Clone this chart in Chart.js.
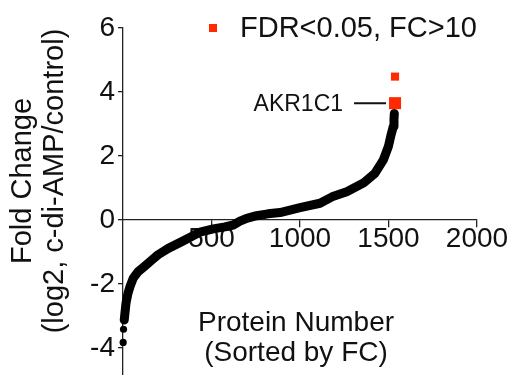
<!DOCTYPE html>
<html>
<head>
<meta charset="utf-8">
<script src="https://cdn.jsdelivr.net/npm/chart.js@4.4.0/dist/chart.umd.min.js"></script>
<style>
  html, body { margin: 0; padding: 0; background: #fff; }
</style>
</head>
<body>
<canvas id="fcChart" width="512" height="375"></canvas>
<script>
// protein rank (sorted by FC) and log2 fold change
const rankBand = [7, 17, 28, 40, 58, 85, 124, 164, 198, 256, 332, 388, 435, 510, 576, 623, 661, 699, 755, 819, 887,
                  1000, 1113, 1181, 1264, 1358, 1424, 1471, 1499, 1512, 1527, 1531, 1533];
const fcBand = [-3.13, -2.6, -2.3, -2.08, -1.82, -1.62, -1.44, -1.25, -1.09, -0.89, -0.68, -0.52, -0.38, -0.28, -0.22,
                -0.16, -0.04, 0.05, 0.13, 0.19, 0.23, 0.38, 0.52, 0.72, 0.88, 1.15, 1.46, 1.875, 2.29, 2.6, 2.92, 3.15, 3.33];

// the two lowest proteins sit apart from the curve
const rankLowTail = [1, 3];
const fcLowTail = [-3.83, -3.42];

// FDR<0.05, FC>10 hits
const rankHits = [1537, 1537];
const fcHits = [4.48, 3.65];
const hitSizes = [5.7, 8.5];
const hitLabel = 'AKR1C1';

const xTicks = [500, 1000, 1500, 2000];
const yTicks = [-4, -2, 0, 2, 4, 6];

const xTitle = ['Protein Number', '(Sorted by FC)'];
const yTitle = ['Fold Change', '(log2, c-di-AMP/control)'];
const legendText = 'FDR<0.05, FC>10';

const RED = '#ff2a00';
const FONT = '"Liberation Sans", Arial, Helvetica, sans-serif';

function toPoints(xs, ys) {
    return xs.map((v, i) => ({ x: v, y: ys[i] }));
}

function semPadding(s) {
    s.paddingLeft = 0;
    s.paddingRight = 0;
    s.paddingTop = 0;
    s.paddingBottom = 0;
}

// the y axis runs down to the bottom edge of the picture
const eixoAteBorda = {
    id: 'eixoAteBorda',
    afterLayout(chart) {
        const sy = chart.scales.y;
        sy.bottom = chart.height;
        sy.height = sy.bottom - sy.top;
        sy.configure();
        chart.chartArea.bottom = chart.height;
        chart.chartArea.height = chart.chartArea.bottom - chart.chartArea.top;
    }
};

// titles, legend and the AKR1C1 call-out
const textoExtra = {
    id: 'textoExtra',
    afterDraw(chart) {
        const ctx = chart.ctx;
        const sx = chart.scales.x;
        const sy = chart.scales.y;
        ctx.save();
        ctx.fillStyle = '#111';
        ctx.textBaseline = 'middle';
        ctx.textAlign = 'center';

        ctx.font = '28px ' + FONT;
        ctx.fillText(xTitle[0], 296, 323);
        ctx.fillText(xTitle[1], 296, 353);

        ctx.font = '29px ' + FONT;
        [23, 55].forEach((px, i) => {
            ctx.save();
            ctx.translate(px, 181);
            ctx.rotate(-Math.PI / 2);
            ctx.fillText(yTitle[i], 0, 0);
            ctx.restore();
        });

        // legend
        ctx.fillStyle = RED;
        ctx.fillRect(209, 24, 8, 8);
        ctx.fillStyle = '#111';
        ctx.textAlign = 'left';
        ctx.fillText(legendText, 240, 29);

        // AKR1C1 label + leader line
        const px = sx.getPixelForValue(rankHits[1]);
        const py = sy.getPixelForValue(fcHits[1]);
        ctx.strokeStyle = '#111';
        ctx.lineWidth = 2;
        ctx.beginPath();
        ctx.moveTo(px - 41, py);
        ctx.lineTo(px - 9, py);
        ctx.stroke();
        ctx.font = '23px ' + FONT;
        ctx.textAlign = 'right';
        ctx.fillText(hitLabel, px - 52, py + 1);
        ctx.restore();
    }
};

const ctx = document.getElementById('fcChart').getContext('2d');
const fcChart = new Chart(ctx, {
    type: 'scatter',
    data: {
        datasets: [
            {
                label: 'hits',
                data: toPoints(rankHits, fcHits),
                pointStyle: 'rect',
                pointRadius: hitSizes,
                backgroundColor: RED,
                borderWidth: 0,
                clip: false
            },
            {
                label: 'low tail',
                data: toPoints(rankLowTail, fcLowTail),
                pointRadius: 3.6,
                backgroundColor: '#000',
                borderWidth: 0,
                clip: false
            },
            {
                label: 'proteins',
                data: toPoints(rankBand, fcBand),
                showLine: true,
                borderColor: '#000',
                borderWidth: 9,
                borderJoinStyle: 'round',
                borderCapStyle: 'round',
                pointRadius: 0,
                tension: 0,
                clip: false
            }
        ]
    },
    options: {
        responsive: false,
        animation: false,
        layout: { padding: { top: 28, right: 35, bottom: 0, left: 0 } },
        plugins: {
            legend: { display: false },
            tooltip: { enabled: false }
        },
        scales: {
            x: {
                type: 'linear',
                min: 0,
                max: 2000,
                position: { y: 0 },
                afterBuildTicks: s => { s.ticks = xTicks.map(v => ({ value: v })); },
                afterFit: semPadding,
                grid: { drawOnChartArea: false, drawTicks: true, tickLength: 7, color: '#222', lineWidth: 1.3 },
                border: { display: true, color: '#222', width: 1.3 },
                ticks: {
                    color: '#111',
                    padding: -4,
                    font: { size: 28, family: FONT },
                    callback: v => String(v)
                }
            },
            y: {
                min: -4.85,
                max: 6,
                afterBuildTicks: s => { s.ticks = yTicks.map(v => ({ value: v })); },
                afterFit: s => { semPadding(s); s.width = 123; },
                grid: { drawOnChartArea: false, drawTicks: true, tickLength: 5, color: '#222', lineWidth: 1.3 },
                border: { display: true, color: '#222', width: 1.3 },
                ticks: { color: '#111', padding: 3, font: { size: 28, family: FONT } }
            }
        }
    },
    plugins: [eixoAteBorda, textoExtra]
});
</script>
</body>
</html>
